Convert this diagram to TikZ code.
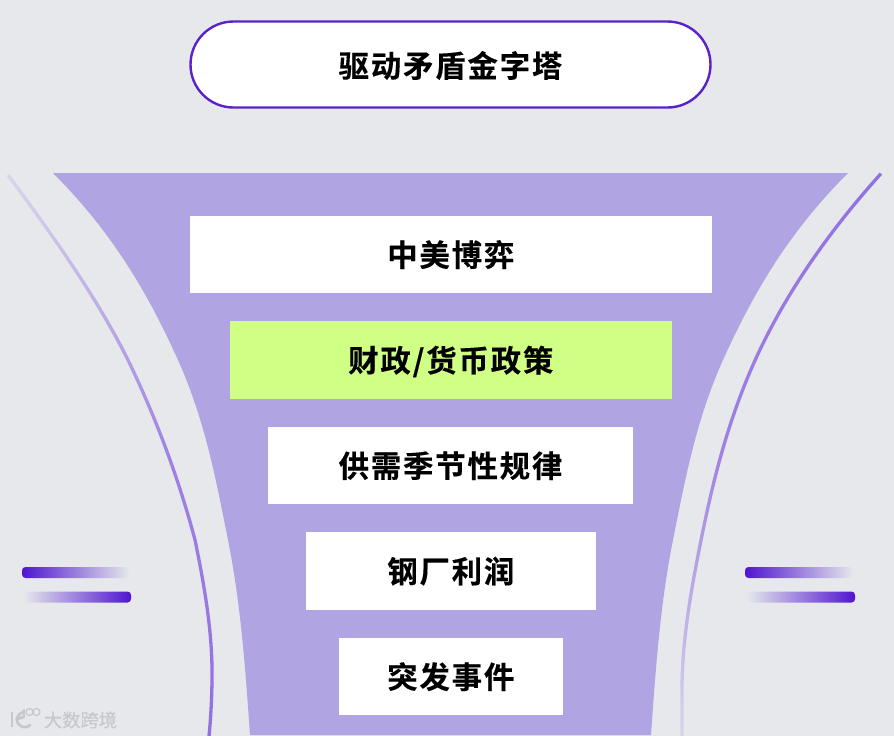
\documentclass[tikz,border=0pt]{standalone}
\usepackage{fontspec}
\usetikzlibrary{fadings}
\newfontfamily\cjkbold[LetterSpace=6,FakeBold=0.3]{Noto Sans CJK SC Bold}
\newfontfamily\cjkplain[FakeBold=0.4]{Noto Sans CJK SC}
\definecolor{pagebg}{HTML}{E6E8EC}
\definecolor{funnelc}{HTML}{B0A4E3}
\definecolor{limec}{HTML}{CFFF85}
\definecolor{pillc}{HTML}{5A22C8}
\definecolor{barc}{HTML}{5015D0}
\definecolor{linec}{HTML}{9370E2}
\definecolor{markc}{HTML}{C6C8CC}
\tikzfading[name=fadeRightBar, left color=transparent!0, right color=transparent!100]
\tikzfading[name=fadeLeftBar, left color=transparent!100, right color=transparent!0]
\tikzfading[name=fadeUpLine, bottom color=transparent!0, top color=transparent!85, middle color=transparent!15]
\tikzfading[name=fadeDownLine, top color=transparent!0, bottom color=transparent!85, middle color=transparent!15]
\tikzset{
  labeltext/.style={font=\cjkbold\fontsize{22.8pt}{26pt}\selectfont, text=black, text height=19pt, text depth=0pt},
  tierbox/.style={labeltext, text height=17.7pt, fill=white, draw=none, inner sep=0pt, minimum width=#1*0.75pt, minimum height=77.5*0.75pt},
  sideline/.style={line width=3.3*0.75pt, color=linec},
  barshape/.style={color=barc, rounded corners=3.5*0.75pt},
  markstroke/.style={draw=markc, line width=2.8*0.75pt},
}
\begin{document}
\begin{tikzpicture}[x=0.75pt,y=-0.75pt]
\useasboundingbox (0,0) rectangle (894,736);
\fill[pagebg] (0,0) rectangle (894,736);
% funnel
\fill[funnelc] (53,173) -- (848,173)
  .. controls (786,235) and (751,298) .. (723,360)
  .. controls (696,420) and (685,480) .. (673,540)
  .. controls (660,605) and (655.5,671) .. (651,735)
  -- (250,735)
  .. controls (245.5,671) and (241,605) .. (228,540)
  .. controls (216,480) and (205,420) .. (178,360)
  .. controls (150,298) and (115,235) .. (53,173) -- cycle;
% side lines
\draw[sideline, path fading=fadeUpLine] (8,175)
  .. controls (54,237) and (97,298) .. (128,360)
  .. controls (157,420) and (179,480) .. (195,540)
  .. controls (204,584) and (212,629) .. (212,673)
  .. controls (212,694) and (211,715) .. (209,736);
\draw[sideline, path fading=fadeDownLine] (881,173)
  .. controls (825,235) and (783,298) .. (755,360)
  .. controls (728,420) and (713,480) .. (701,540)
  .. controls (691,590) and (682,640) .. (682,690)
  -- (682,736);
% bars
\fill[barshape, path fading=fadeRightBar] (22,567) rectangle (129,578);
\fill[barshape, path fading=fadeLeftBar] (24,591.5) rectangle (131,602.5);
\fill[barshape, path fading=fadeRightBar] (745,567) rectangle (853,578);
\fill[barshape, path fading=fadeLeftBar] (747,591.5) rectangle (855,602.5);
% title pill
\node[labeltext, draw=pillc, line width=1.8pt, fill=white, rounded corners=43*0.75pt, minimum width=520*0.75pt, minimum height=86*0.75pt, inner sep=0pt] (title) at (450.5,64.5) {驱动矛盾金字塔};
% tiers
\node[tierbox=522.5] (t1) at (450.8,254.5) {中美博弈};
\node[tierbox=442.5, fill=limec] (t2) at (450.8,360) {财政/货币政策};
\node[tierbox=365] (t3) at (450.5,465.5) {供需季节性规律};
\node[tierbox=290.5] (t4) at (450.8,571) {钢厂利润};
\node[tierbox=224.5] (t5) at (450.8,676.5) {突发事件};
% watermark
\draw[markstroke] (12,712) -- (12,727);
\draw[markstroke, line cap=round] (23,712) .. controls (15,716) and (15,722) .. (21,726) .. controls (24,728) and (28,727) .. (30,725);
\draw[markstroke, line cap=round] (17,719) -- (24,717);
\draw[markstroke, line width=1.2*0.75pt] (24,709) -- (24,716);
\draw[markstroke, line width=1.2*0.75pt] (29.5,712) circle (3.5);
\draw[markstroke, line width=1.2*0.75pt] (36.5,712) circle (3.5);
\node[text=markc, inner sep=0pt, font=\cjkplain\fontsize{13.7pt}{15pt}\selectfont] (wmtext) at (80.5,720) {大数跨境};
\end{tikzpicture}
\end{document}
